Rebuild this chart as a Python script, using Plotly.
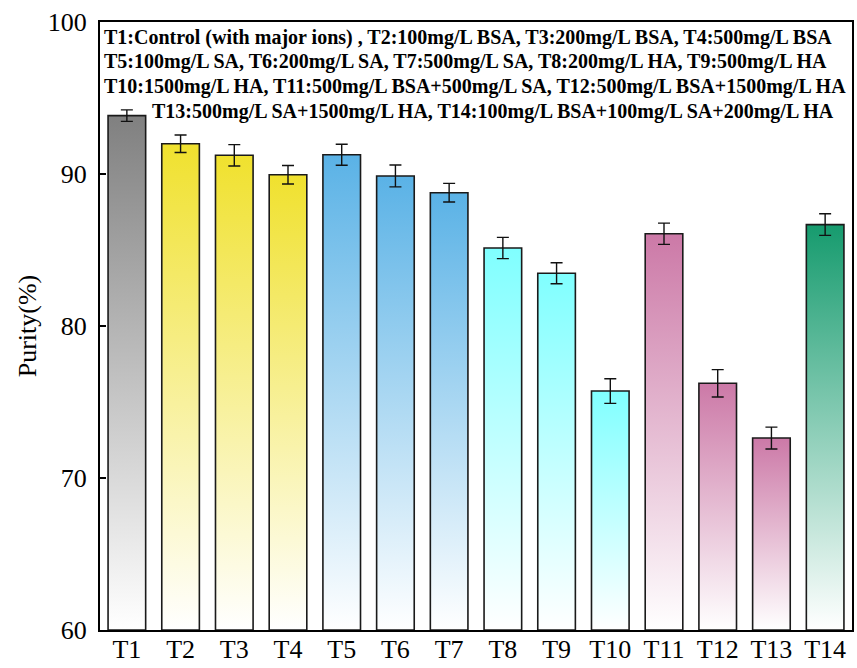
import plotly.graph_objects as go

categories = ["T1", "T2", "T3", "T4", "T5", "T6", "T7", "T8", "T9", "T10", "T11", "T12", "T13", "T14"]
purity = [93.84, 91.99, 91.23, 89.95, 91.27, 89.87, 88.77, 85.13, 83.47, 75.72, 86.07, 76.23, 72.63, 86.67]
errors = [0.38, 0.58, 0.70, 0.61, 0.69, 0.72, 0.61, 0.70, 0.69, 0.81, 0.70, 0.90, 0.72, 0.71]
bar_colors = ["#808080",
              "#F0E12E", "#F0E12E", "#F0E12E",
              "#5AB2E6", "#5AB2E6", "#5AB2E6",
              "#80FFFF", "#80FFFF", "#80FFFF",
              "#CC79A7", "#CC79A7", "#CC79A7",
              "#169B6E"]
legend_lines = [
    "T1:Control (with major ions) , T2:100mg/L BSA, T3:200mg/L BSA, T4:500mg/L BSA",
    "T5:100mg/L SA, T6:200mg/L SA, T7:500mg/L SA, T8:200mg/L HA, T9:500mg/L HA",
    "T10:1500mg/L HA, T11:500mg/L BSA+500mg/L SA, T12:500mg/L BSA+1500mg/L HA",
    "T13:500mg/L SA+1500mg/L HA, T14:100mg/L BSA+100mg/L SA+200mg/L HA",
]
y_min, y_max = 60, 100
bar_width = 0.7

W, H = 857, 668
ML, MR, MT, MB = 100, 5, 22, 38
PW, PH = W - ML - MR, H - MT - MB

positions = list(range(1, len(categories) + 1))
fig = go.Figure()

for pos, val, col in zip(positions, purity, bar_colors):
    x0, x1 = pos - bar_width / 2, pos + bar_width / 2
    fig.add_trace(go.Scatter(
        x=[x0, x0, x1, x1, x0],
        y=[y_min, val, val, y_min, y_min],
        mode="lines",
        fill="toself",
        fillgradient=dict(type="vertical", colorscale=[[0, "#ffffff"], [1, col]]),
        line=dict(color="#1a1a1a", width=1.6),
        showlegend=False,
        hoverinfo="skip",
    ))

fig.add_trace(go.Scatter(
    x=positions, y=purity,
    mode="markers",
    marker=dict(size=1, color="rgba(0,0,0,0)"),
    error_y=dict(type="data", array=errors, visible=True, color="#111111", thickness=1.4, width=6),
    showlegend=False,
))

font_family = "Liberation Serif, Times New Roman, serif"
line_y = [37, 61, 86, 111]
line_x = [102, 102, 102, 150]
for txt, yy, xx in zip(legend_lines, line_y, line_x):
    fig.add_annotation(
        x=(xx - ML) / PW, y=(H - MB - yy) / PH, xref="paper", yref="paper",
        xanchor="left", yanchor="middle",
        text="<b>%s</b>" % txt, showarrow=False,
        font=dict(family=font_family, size=20, color="black"),
    )

fig.update_layout(
    width=W, height=H,
    margin=dict(l=ML, r=MR, t=MT, b=MB, autoexpand=False),
    paper_bgcolor="white", plot_bgcolor="white",
    font=dict(family=font_family, color="black"),
    showlegend=False,
)
fig.update_xaxes(
    range=[0.5, len(categories) + 0.5],
    tickmode="array", tickvals=positions, ticktext=categories,
    tickfont=dict(size=26), ticks="", automargin=False, ticklabelstandoff=-5,
    showline=True, linecolor="black", linewidth=2, mirror=True,
    showgrid=False, zeroline=False,
)
fig.update_yaxes(
    range=[y_min, y_max], dtick=10, tick0=60,
    ticks="inside", ticklen=6, tickwidth=2, tickcolor="black",
    tickfont=dict(size=26), ticklabelstandoff=6, automargin=False,
    title=dict(text="Purity(%)", font=dict(size=26), standoff=4),
    showline=True, linecolor="black", linewidth=2, mirror=True,
    showgrid=False, zeroline=False,
)

fig.write_html("out.html")
